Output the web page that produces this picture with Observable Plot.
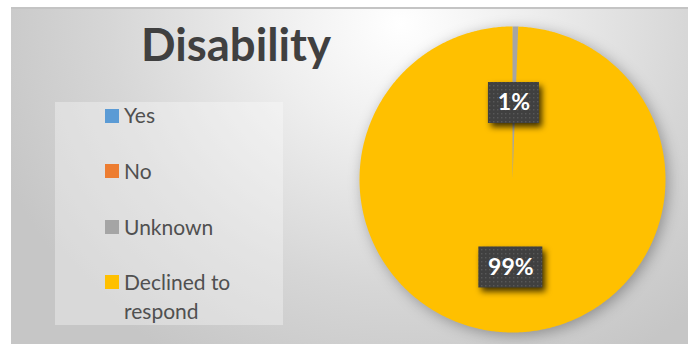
<!DOCTYPE html>
<html>
<head>
<meta charset="utf-8">
<script src="https://cdn.jsdelivr.net/npm/d3@7"></script>
<script src="https://cdn.jsdelivr.net/npm/@observablehq/plot@0.6"></script>
<style>
  html, body { margin: 0; padding: 0; background: #fff; }
  #wrap { position: relative; width: 692px; height: 344px; overflow: hidden; font-family: Lato, "Open Sans", sans-serif; }
  #frame { position: absolute; left: 11px; top: 7px; width: 677px; height: 337px; border-top: 2px solid #c4c4c4;
    background: radial-gradient(ellipse 430px 390px at 390px 15px, #ffffff 0%, #eeeeee 30%, #d6d6d6 68%, #c6c6c6 100%); }
  #plot { position: absolute; left: 0; top: 0; }
  #title { position: absolute; left: 141px; top: 17px; font-weight: 700; font-size: 45.5px; line-height: 54.6px; color: #404040; white-space: nowrap; }
  #legendBox { position: absolute; left: 55px; top: 102px; width: 228px; height: 223px; background: rgba(255,255,255,0.33); }
  .sw { position: absolute; left: 105px; width: 14px; height: 14px; }
  .lt { position: absolute; left: 124px; font-size: 21px; line-height: 29px; color: #505050; white-space: nowrap; }
  svg g[aria-label="rect"] { filter: drop-shadow(3px 4px 3px rgba(0,0,0,0.75)); }
  svg g[aria-label="line"] { filter: drop-shadow(3px 3px 7px rgba(0,0,0,0.3)); }
</style>
</head>
<body>
<div id="wrap">
  <div id="frame"></div>
  <div id="legendBox"></div>
  <div id="plot"></div>
  <div id="title"></div>
  <div id="legend"></div>
</div>
<script>
// ---- data ----
const title = "Disability";
const categories = ["Yes", "No", "Unknown", "Declined to respond"];
const legendLabels = ["Yes", "No", "Unknown", "Declined to<br>respond"];
const values = [0, 0, 0.6, 99.4];
const labelTexts = ["", "", "1%", "99%"];
const colors = ["#5B9BD5", "#ED7D31", "#A5A5A5", "#FFC000"];

// ---- pie geometry from data ----
const pie = d3.pie().sort(null).value(d => d)(values);
const polys = [];
pie.forEach((p, i) => {
  if (p.endAngle - p.startAngle <= 0) return;
  const n = Math.max(2, Math.ceil((p.endAngle - p.startAngle) / 0.01));
  polys.push({cat: categories[i], x: 0, y: 0});
  for (let k = 0; k <= n; k++) {
    const a = p.startAngle + (p.endAngle - p.startAngle) * k / n;
    polys.push({cat: categories[i], x: Math.sin(a), y: Math.cos(a)});
  }
  polys.push({cat: categories[i], x: 0, y: 0});
});
const labelRadius = [0.5, 0.5, 0.5, 0.575];
const labels = pie.map((p, i) => {
  const a = (p.startAngle + p.endAngle) / 2;
  return {text: labelTexts[i], x: labelRadius[i] * Math.sin(a), y: labelRadius[i] * Math.cos(a)};
}).filter(d => d.text);

const boxW = {"1%": 51, "99%": 64};
const boxMarks = labels.map(l => Plot.rect([l], {
  x1: "x", x2: "x", y1: "y", y2: "y",
  insetLeft: -boxW[l.text] / 2, insetRight: -boxW[l.text] / 2, insetTop: -20.5, insetBottom: -20.5,
  fill: "url(#dots)"
}));

const chart = Plot.plot({
  width: 692, height: 344, margin: 0,
  style: {background: "transparent", overflow: "visible"},
  x: {domain: [-1, 1], range: [359, 665], axis: null},
  y: {domain: [-1, 1], range: [332, 26], axis: null},
  color: {domain: categories, range: colors},
  marks: [
    Plot.line(polys, {x: "x", y: "y", z: "cat", fill: "cat", stroke: "none", curve: "linear"}),
    ...boxMarks,
    Plot.text(labels, {x: "x", y: "y", text: "text", fill: "white", fontSize: 23, fontWeight: "bold", fontFamily: "Lato, sans-serif"})
  ]
});
// dotted fill pattern for the label boxes
const ns = "http://www.w3.org/2000/svg";
const defs = document.createElementNS(ns, "defs");
defs.innerHTML = '<pattern id="dots" width="4" height="4" patternUnits="userSpaceOnUse"><rect width="4" height="4" fill="#404040"/><rect x="1" y="1" width="1.4" height="1.4" fill="#585858"/></pattern>';
chart.insertBefore(defs, chart.firstChild);
document.getElementById("plot").appendChild(chart);

document.getElementById("title").textContent = title;
const tops = [100.4, 156.4, 211.7, 267.4];
const swTops = [109, 164, 220, 275];
const leg = document.getElementById("legend");
categories.forEach((c, i) => {
  const s = document.createElement("div");
  s.className = "sw"; s.style.top = swTops[i] + "px"; s.style.background = colors[i];
  leg.appendChild(s);
  const t = document.createElement("div");
  t.className = "lt"; t.style.top = tops[i] + "px"; t.innerHTML = legendLabels[i];
  leg.appendChild(t);
});
</script>
</body>
</html>
